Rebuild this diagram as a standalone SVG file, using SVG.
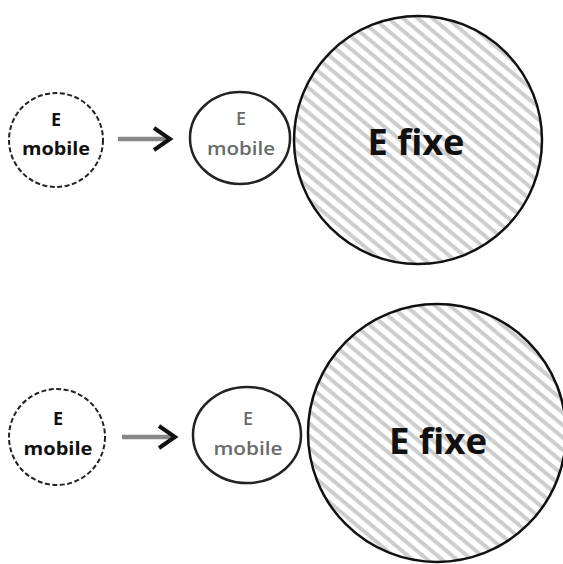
<svg xmlns="http://www.w3.org/2000/svg" width="563" height="564" viewBox="0 0 563 564">
<style>
.dash{fill:#fff;stroke:#222;stroke-width:2;stroke-dasharray:5 2.5}
.mob{fill:#fff;stroke:#222;stroke-width:2.5}
.fix{fill:url(#hatch);stroke:#111;stroke-width:2.5}
.t{font-family:"Open Sans","Liberation Sans",sans-serif;font-weight:bold;text-anchor:middle}
.s{font-size:18px;fill:#111}
.g{font-size:18px;fill:#6a6a6a;font-weight:600}
.b{font-size:35px;fill:#111}
.shaft{stroke:#888;stroke-width:4.5;fill:none}
.head{stroke:#111;stroke-width:4;fill:none;stroke-linecap:butt;stroke-linejoin:miter}
</style>
<defs>
<pattern id="hatch" patternUnits="userSpaceOnUse" width="9.5" height="9.5" patternTransform="rotate(40)">
<rect width="9.5" height="9.5" fill="#fff"/>
<rect y="0" width="9.5" height="4" fill="#cdcdcd"/>
</pattern>
</defs>
<g id="top-fixe">
<circle class="fix" cx="418" cy="140" r="124"/>
<text class="t b" x="416" y="155" textLength="97" lengthAdjust="spacingAndGlyphs">E fixe</text>
</g>
<g id="top-mobile-start">
<circle class="dash" cx="56" cy="140" r="47"/>
<text class="t s" x="56" y="126">E</text>
<text class="t s" x="56" y="155" textLength="68" lengthAdjust="spacingAndGlyphs">mobile</text>
</g>
<g id="top-mobile-end">
<ellipse class="mob" cx="240" cy="138" rx="50" ry="46"/>
<text class="t g" x="241" y="125">E</text>
<text class="t g" x="241" y="155" textLength="68" lengthAdjust="spacingAndGlyphs">mobile</text>
</g>
<g id="bottom-fixe">
<circle class="fix" cx="437" cy="433" r="129"/>
<text class="t b" x="438" y="454" textLength="98" lengthAdjust="spacingAndGlyphs">E fixe</text>
</g>
<g id="bottom-mobile-start">
<circle class="dash" cx="57" cy="437" r="48"/>
<text class="t s" x="58" y="425">E</text>
<text class="t s" x="58" y="455" textLength="69" lengthAdjust="spacingAndGlyphs">mobile</text>
</g>
<g id="bottom-mobile-end">
<ellipse class="mob" cx="247" cy="435" rx="54" ry="48"/>
<text class="t g" x="248" y="425">E</text>
<text class="t g" x="248" y="455" textLength="69" lengthAdjust="spacingAndGlyphs">mobile</text>
</g>
<g id="connectors">
<line class="shaft" x1="118" y1="139" x2="168" y2="139"/>
<polyline class="head" points="154,128 170,139 154,150"/>
<line class="shaft" x1="122" y1="437" x2="173" y2="437"/>
<polyline class="head" points="159,426 175,437 159,448"/>
</g>
</svg>
